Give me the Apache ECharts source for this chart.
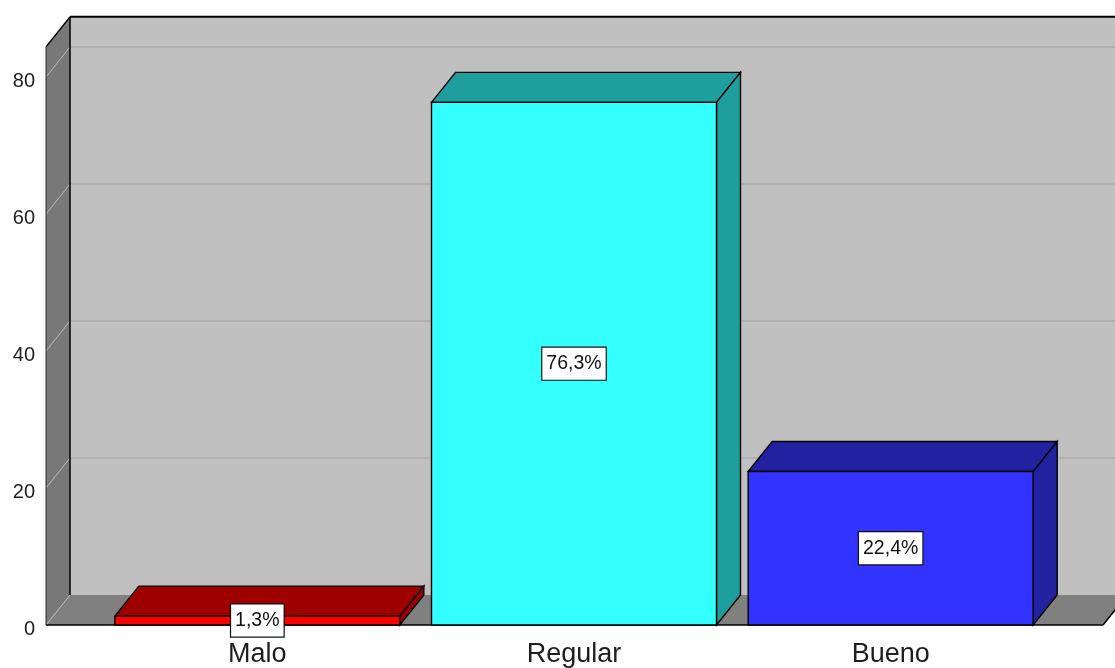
<!DOCTYPE html>
<html>
<head>
<meta charset="utf-8">
<title>Valoración</title>
<script src="https://cdn.jsdelivr.net/npm/echarts@6/dist/echarts.min.js"></script>
<style>
  html, body { margin: 0; padding: 0; background: #ffffff; }
  #chart { width: 1115px; height: 668px; }
</style>
</head>
<body>
<div id="chart"></div>
<script>
// Categories and their percentages
const categories = ['Malo', 'Regular', 'Bueno'];
const percents = [1.3, 76.3, 22.4];

// Value axis ticks
const yTickValues = [0, 20, 40, 60, 80];
const yMin = 0;
const yMax = 80;
const yStep = 20;

// Face colours: front face and the shaded top/side faces
const frontColors = ['#ff0000', '#33ffff', '#3333ff'];
const shadeColors = ['#9e0000', '#1f9e9e', '#2222a0'];

// 3D depth offset (pixels) and box extents
const DX = 24;
const DY = 30;
const WALL_TOP = 84.4;      // height of the back wall in axis units
const SIDE_PAD_LEFT = 53;   // floor extends beyond the plotting band
const SIDE_PAD_RIGHT = 54;

const FONT = '"Liberation Sans", Arial, sans-serif';

function fmtPct(v) {
  return v.toFixed(1).replace('.', ',') + '%';
}

// Back wall, left wall, floor and grid lines
function renderBackdrop(params, api) {
  const cs = params.coordSys;
  const x0 = cs.x - SIDE_PAD_LEFT;
  const x1 = cs.x + cs.width + SIDE_PAD_RIGHT;
  const yBase = api.coord([0, yMin])[1];
  const yTop = api.coord([0, WALL_TOP])[1];
  const children = [];

  // back wall
  children.push({
    type: 'rect',
    shape: { x: x0 + DX, y: yTop - DY, width: (x1 + DX) - (x0 + DX) + 40, height: yBase - yTop },
    style: { fill: '#c0c0c0' }
  });
  // horizontal grid lines on the back wall
  yTickValues.forEach(function (t) {
    if (t === yMin) return;
    const y = api.coord([0, t])[1] - DY;
    children.push({
      type: 'line',
      shape: { x1: x0 + DX, y1: y, x2: x1 + DX + 40, y2: y },
      style: { stroke: '#b0b0b0', lineWidth: 2 }
    });
  });
  // floor
  children.push({
    type: 'polygon',
    shape: { points: [[x0, yBase], [x1, yBase], [x1 + DX, yBase - DY], [x0 + DX, yBase - DY]] },
    style: { fill: '#808080' }
  });
  // left wall
  children.push({
    type: 'polygon',
    shape: { points: [[x0, yBase], [x0, yTop], [x0 + DX, yTop - DY], [x0 + DX, yBase - DY]] },
    style: { fill: '#787878' }
  });
  // diagonal grid lines on the left wall
  yTickValues.forEach(function (t) {
    const y = api.coord([0, t])[1];
    children.push({
      type: 'line',
      shape: { x1: x0, y1: y, x2: x0 + DX, y2: y - DY },
      style: { stroke: '#bcbcbc', lineWidth: 1 }
    });
  });
  // edges
  const edges = [
    [[x0 + DX, yTop - DY], [x1 + DX + 40, yTop - DY], '#000', 2],
    [[x0, yTop], [x0 + DX, yTop - DY], '#000', 1.5],
    [[x0 + DX, yTop - DY], [x0 + DX, yBase - DY], '#000', 1.5],
    [[x0, yTop], [x0, yBase], '#2a2a2a', 1],
    [[x0, yBase], [x1, yBase], '#000', 1.5],
    [[x1, yBase], [x1 + DX, yBase - DY], '#000', 1.5]
  ];
  edges.forEach(function (e) {
    children.push({
      type: 'line',
      shape: { x1: e[0][0], y1: e[0][1], x2: e[1][0], y2: e[1][1] },
      style: { stroke: e[2], lineWidth: e[3] }
    });
  });
  return { type: 'group', children: children };
}

// 3D bar: front face, top face, right side face and a boxed value label
function renderBar(params, api) {
  const i = api.value(0);
  const v = api.value(1);
  const base = api.coord([i, yMin]);
  const top = api.coord([i, v]);
  const w = api.size([1, 0])[0] * 0.9;
  const xl = base[0] - w / 2;
  const xr = base[0] + w / 2;
  const yb = base[1];
  const yt = top[1];
  const edge = { stroke: '#000', lineWidth: 1.4, lineJoin: 'miter' };
  return {
    type: 'group',
    children: [
      {
        type: 'polygon',
        shape: { points: [[xl, yt], [xl + DX, yt - DY], [xr + DX, yt - DY], [xr, yt]] },
        style: Object.assign({ fill: shadeColors[i] }, edge)
      },
      {
        type: 'polygon',
        shape: { points: [[xr, yt], [xr + DX, yt - DY], [xr + DX, yb - DY], [xr, yb]] },
        style: Object.assign({ fill: shadeColors[i] }, edge)
      },
      {
        type: 'rect',
        shape: { x: xl, y: yt, width: w, height: yb - yt },
        style: Object.assign({ fill: frontColors[i] }, edge)
      },
      {
        type: 'text',
        x: base[0],
        y: (yb + yt) / 2,
        style: {
          text: fmtPct(v),
          font: '19.5px ' + FONT,
          fill: '#111',
          align: 'center',
          verticalAlign: 'middle',
          backgroundColor: '#ffffff',
          borderColor: '#111',
          borderWidth: 1.2,
          padding: [7, 4, 5, 4]
        }
      }
    ]
  };
}

const chart = echarts.init(document.getElementById('chart'), null, { renderer: 'canvas' });

chart.setOption({
  animation: false,
  backgroundColor: '#ffffff',
  grid: { left: 99, right: 66, top: 77, bottom: 42 },
  xAxis: {
    type: 'category',
    data: categories,
    axisLine: { show: false },
    axisTick: { show: false },
    splitLine: { show: false },
    axisLabel: {
      margin: 16,
      fontSize: 27,
      fontFamily: FONT,
      color: '#1e1e1e'
    }
  },
  yAxis: {
    type: 'value',
    min: yMin,
    max: yMax,
    interval: yStep,
    axisLine: { show: false },
    axisTick: { show: false },
    splitLine: { show: false },
    axisLabel: {
      margin: 64,
      fontSize: 20,
      fontFamily: FONT,
      color: '#1e1e1e',
      verticalAlign: 'top',
      lineHeight: 9
    }
  },
  series: [
    {
      type: 'custom',
      name: 'backdrop',
      silent: true,
      clip: false,
      renderItem: renderBackdrop,
      data: [[0, 0]],
      z: 1
    },
    {
      type: 'custom',
      name: 'Porcentaje',
      clip: false,
      renderItem: renderBar,
      encode: { x: 0, y: 1 },
      data: categories.map(function (c, i) { return [i, percents[i]]; }),
      z: 2
    }
  ]
});
</script>
</body>
</html>
